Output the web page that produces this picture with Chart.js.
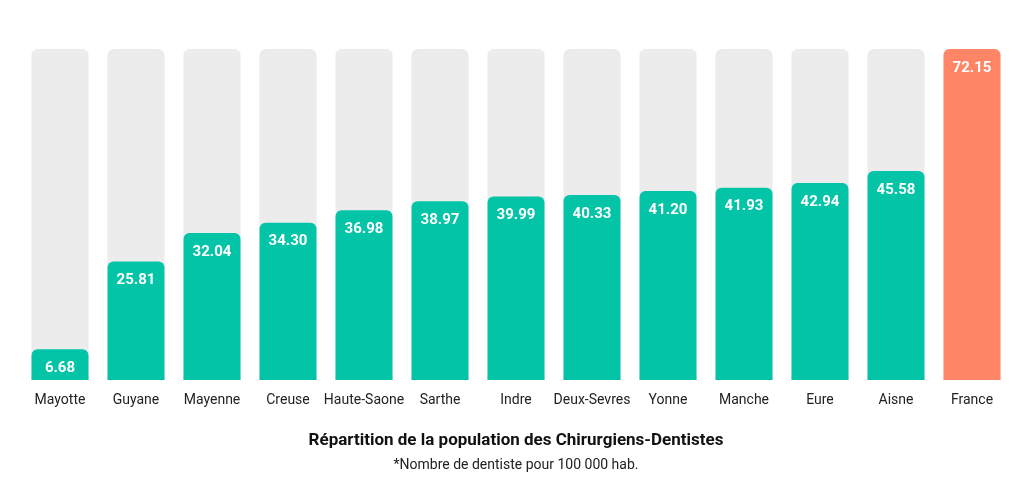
<!DOCTYPE html>
<html>
<head>
<meta charset="utf-8">
<script src="https://cdn.jsdelivr.net/npm/chart.js@4"></script>
<style>
  html, body { margin: 0; padding: 0; background: #fff; }
  #wrap { width: 1024px; height: 480px; }
</style>
</head>
<body>
<div id="wrap"><canvas id="chart"></canvas></div>
<script>
const categories = ['Mayotte', 'Guyane', 'Mayenne', 'Creuse', 'Haute-Saone', 'Sarthe', 'Indre', 'Deux-Sevres', 'Yonne', 'Manche', 'Eure', 'Aisne', 'France'];
const density = [6.68, 25.81, 32.04, 34.30, 36.98, 38.97, 39.99, 40.33, 41.20, 41.93, 42.94, 45.58, 72.15];
const axisMax = 72.15;

const barColors = categories.map(c => c === 'France' ? '#ff8566' : '#03c4a6');

// white value labels inside the top of each bar
const valueLabels = {
    id: 'valueLabels',
    afterDatasetsDraw(chart) {
        const ctx = chart.ctx;
        const meta = chart.getDatasetMeta(1);
        ctx.save();
        ctx.fillStyle = '#fff';
        ctx.font = 'bold 15px Roboto';
        ctx.textAlign = 'center';
        ctx.textBaseline = 'middle';
        meta.data.forEach((bar, i) => {
            ctx.fillText(density[i].toFixed(2), bar.x, bar.y + 19);
        });
        ctx.restore();
    }
};

Chart.defaults.font.family = 'Roboto';
Chart.defaults.color = '#222';

new Chart(document.getElementById('chart'), {
    type: 'bar',
    data: {
        labels: categories,
        datasets: [
            {
                data: categories.map(() => axisMax),
                backgroundColor: '#ececec',
                borderRadius: { topLeft: 6, topRight: 6 },
                borderSkipped: 'bottom',
                grouped: false,
                order: 2
            },
            {
                data: density,
                backgroundColor: barColors,
                borderRadius: { topLeft: 6, topRight: 6 },
                borderSkipped: 'bottom',
                grouped: false,
                order: 1
            }
        ]
    },
    options: {
        responsive: true,
        maintainAspectRatio: false,
        animation: false,
        layout: { padding: { left: 22, right: 14, top: 49, bottom: 6 } },
        datasets: { bar: { categoryPercentage: 0.75, barPercentage: 1 } },
        scales: {
            x: {
                grid: { display: false },
                border: { display: false },
                ticks: { font: { size: 14 }, color: '#222', padding: 4, maxRotation: 0, autoSkip: false }
            },
            y: { display: false, min: 0, max: axisMax }
        },
        plugins: {
            legend: { display: false },
            tooltip: { enabled: false },
            // with position bottom, the subtitle sits nearer the chart
            subtitle: {
                display: true,
                position: 'bottom',
                text: 'Répartition de la population des Chirurgiens-Dentistes',
                font: { size: 17, weight: 'bold' },
                color: '#111',
                padding: { top: 18, bottom: 6 }
            },
            title: {
                display: true,
                position: 'bottom',
                text: '*Nombre de dentiste pour 100 000 hab.',
                font: { size: 14, weight: 'normal' },
                color: '#222',
                padding: { top: 0, bottom: 0 }
            }
        }
    },
    plugins: [valueLabels]
});
</script>
</body>
</html>
